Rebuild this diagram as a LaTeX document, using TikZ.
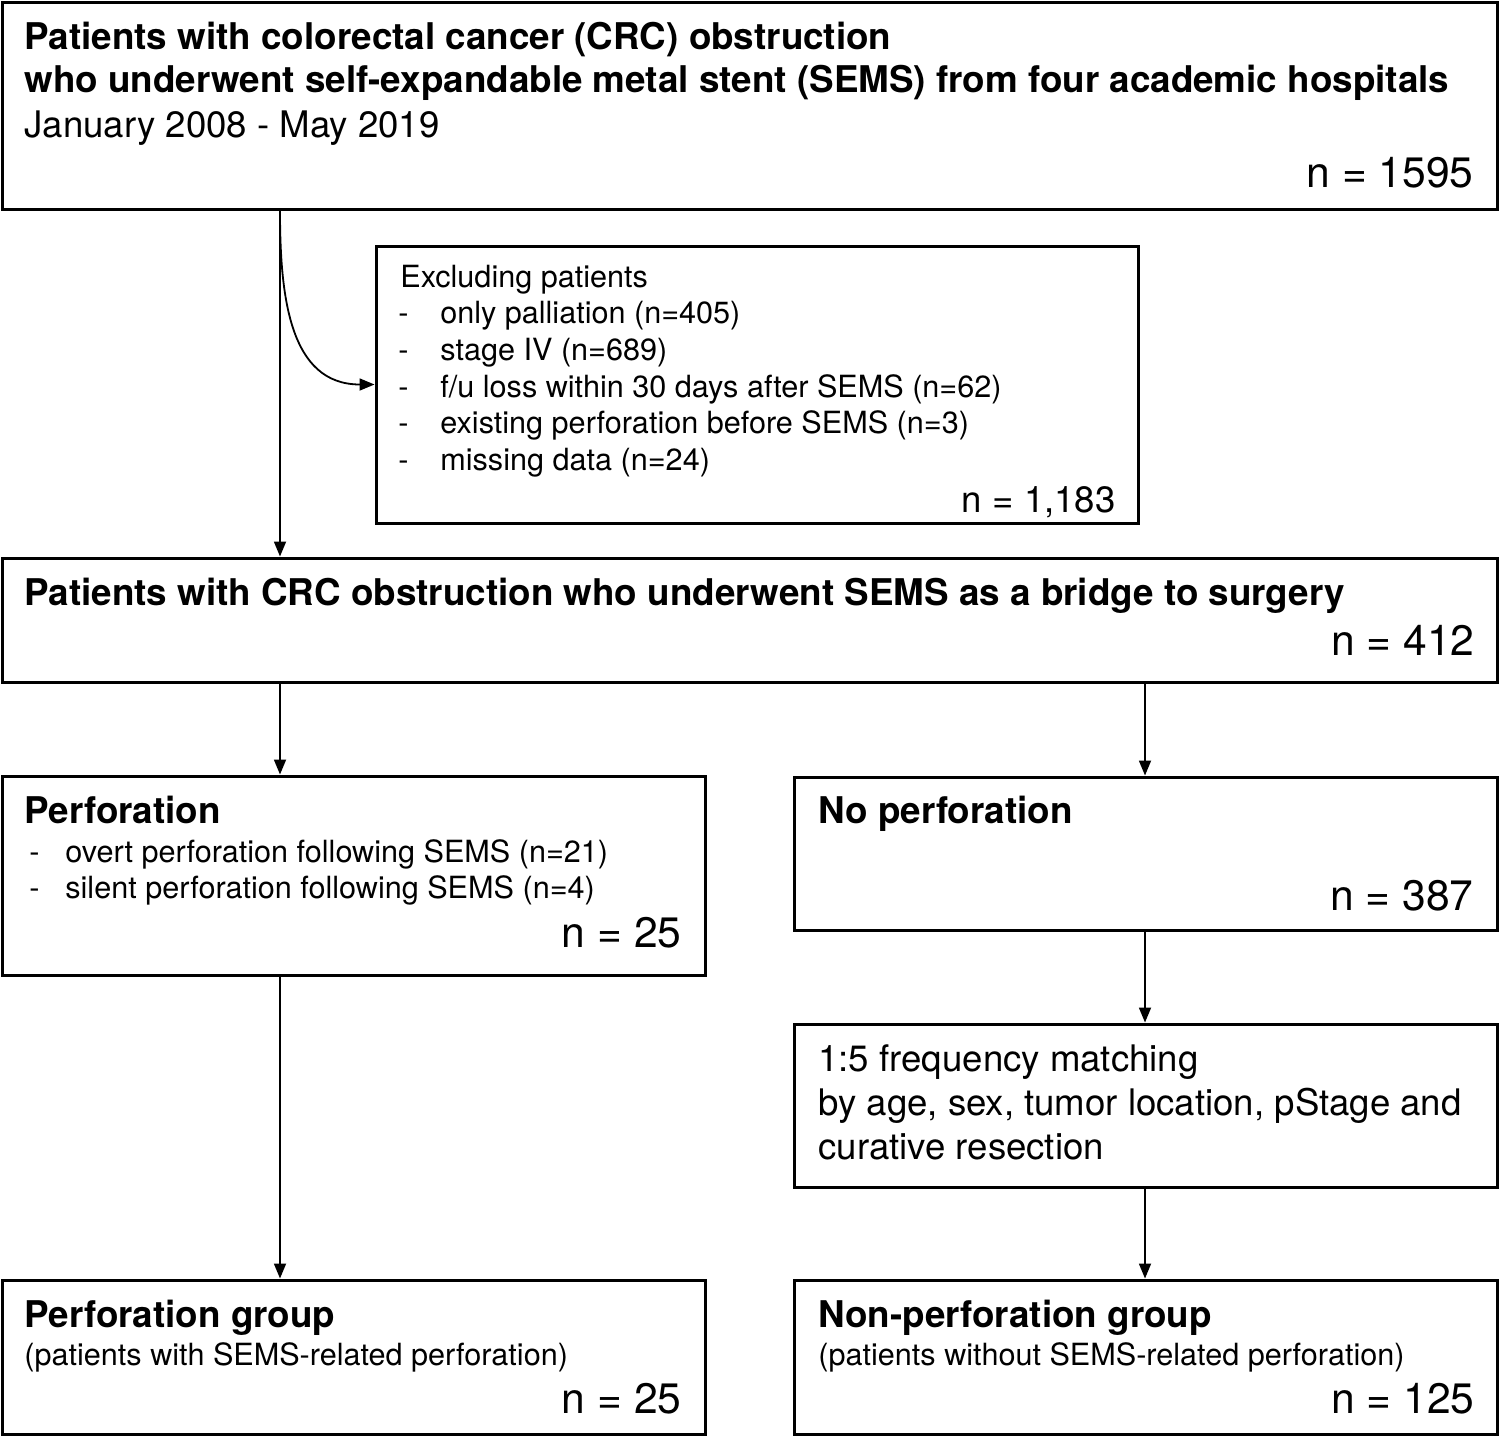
\documentclass[tikz,border=0pt]{standalone}
\usepackage{fontspec}
\setmainfont{TeX Gyre Heros}
\usetikzlibrary{arrows.meta, positioning}

\begin{document}
\begin{tikzpicture}[x=0.5pt, y=-0.5pt]

	\tikzstyle{caja}=[rectangle, draw, line width=1.5pt, inner sep=0pt]
	\tikzstyle{flecha}=[-{Triangle[length=7.5pt, width=6pt]}, line width=0.9pt]
	\tikzstyle{txt}=[anchor=base west, inner sep=0pt, font=\fontsize{18.3}{22}\selectfont]
	\tikzstyle{tit}=[anchor=base west, inner sep=0pt, font=\fontsize{18.4}{22}\selectfont\bfseries]
	\tikzstyle{item}=[anchor=base west, inner sep=0pt, font=\fontsize{15.3}{18}\selectfont]
	\tikzstyle{num}=[anchor=base east, inner sep=0pt, font=\fontsize{21.3}{26}\selectfont]

	\useasboundingbox (0, 0) rectangle (1500, 1436);

	\coordinate (c_0) at (749.5, 105.5); % INICIO
	\coordinate (c_ex) at (757, 384.5); % EXCLUIDOS
	\coordinate (c_1) at (749.5, 620); % PUENTE
	\coordinate (c_2_1) at (353.5, 875.5); % PERFORACION
	\coordinate (c_2_2) at (1145.5, 853.5); % SIN PERFORACION
	\coordinate (c_3_2) at (1145.5, 1105.5); % EMPAREJAMIENTO
	\coordinate (c_4_1) at (353.5, 1357); % GRUPO PERFORACION
	\coordinate (c_4_2) at (1145.5, 1357); % GRUPO SIN PERFORACION

	\coordinate (x_izq) at (280, 0);
	\coordinate (x_der) at (1145, 0);

	\node[caja, minimum width=747.5pt, minimum height=103.5pt] (inicio) at (c_0) {};
	\node[caja, minimum width=381pt, minimum height=138.5pt] (excl) at (c_ex) {};
	\node[caja, minimum width=747.5pt, minimum height=62pt] (puente) at (c_1) {};
	\node[caja, minimum width=351.5pt, minimum height=99.5pt] (perf) at (c_2_1) {};
	\node[caja, minimum width=351.5pt, minimum height=76.5pt] (noperf) at (c_2_2) {};
	\node[caja, minimum width=351.5pt, minimum height=81.5pt] (match) at (c_3_2) {};
	\node[caja, minimum width=351.5pt, minimum height=77pt] (g_perf) at (c_4_1) {};
	\node[caja, minimum width=351.5pt, minimum height=77pt] (g_noperf) at (c_4_2) {};

	\node[tit] (t_0_1) at (24, 49) {Patients with colorectal cancer (CRC) obstruction};
	\node[tit] (t_0_2) at (24, 92) {who underwent self-expandable metal stent (SEMS) from four academic hospitals};
	\node[txt] (t_0_3) at (24, 137) {January 2008 - May 2019};
	\node[num] (n_0) at (1474, 187) {n = 1595};

	\node[item] (t_ex) at (400, 287) {Excluding patients};
	\node[item] (d_ex_1) at (398, 323) {-};
	\node[item] (t_ex_1) at (440, 323) {only palliation (n=405)};
	\node[item] (d_ex_2) at (398, 360) {-};
	\node[item] (t_ex_2) at (440, 360) {stage IV (n=689)};
	\node[item] (d_ex_3) at (398, 397) {-};
	\node[item] (t_ex_3) at (440, 397) {f/u loss within 30 days after SEMS (n=62)};
	\node[item] (d_ex_4) at (398, 433) {-};
	\node[item] (t_ex_4) at (440, 433) {existing perforation before SEMS (n=3)};
	\node[item] (d_ex_5) at (398, 470) {-};
	\node[item] (t_ex_5) at (440, 470) {missing data (n=24)};
	\node[num, font=\fontsize{18.3}{22}\selectfont] (n_ex) at (1116, 512) {n = 1,183};

	\node[tit] (t_1) at (24, 605) {Patients with CRC obstruction who underwent SEMS as a bridge to surgery};
	\node[num] (n_1) at (1475, 655) {n = 412};

	\node[tit] (t_2_1) at (24, 823) {Perforation};
	\node[item] (d_2_1) at (29, 862) {-};
	\node[item] (t_2_1a) at (65, 862) {overt perforation following SEMS (n=21)};
	\node[item] (d_2_2) at (29, 898) {-};
	\node[item] (t_2_1b) at (65, 898) {silent perforation following SEMS (n=4)};
	\node[num] (n_2_1) at (682, 947) {n = 25};

	\node[tit] (t_2_2) at (818, 823) {No perforation};
	\node[num] (n_2_2) at (1474, 910) {n = 387};

	\node[txt] (t_3_a) at (818, 1071) {1:5 frequency matching};
	\node[txt] (t_3_b) at (818, 1115) {by age, sex, tumor location, pStage and};
	\node[txt] (t_3_c) at (818, 1159) {curative resection};

	\node[tit] (t_4_1) at (24, 1327) {Perforation group};
	\node[item] (s_4_1) at (24, 1365) {(patients with SEMS-related perforation)};
	\node[num] (n_4_1) at (682, 1413) {n = 25};

	\node[tit] (t_4_2) at (818, 1327) {Non-perforation group};
	\node[item] (s_4_2) at (818, 1365) {(patients without SEMS-related perforation)};
	\node[num] (n_4_2) at (1475, 1413) {n = 125};

	\draw[flecha] (inicio.south -| x_izq) -- (puente.north -| x_izq);
	\draw[flecha] (inicio.south -| x_izq) to[out=-90, in=180, looseness=1.1] (excl.west);
	\draw[flecha] (puente.south -| x_izq) -- (perf.north -| x_izq);
	\draw[flecha] (puente.south -| x_der) -- (noperf.north -| x_der);
	\draw[flecha] (perf.south -| x_izq) -- (g_perf.north -| x_izq);
	\draw[flecha] (noperf.south -| x_der) -- (match.north -| x_der);
	\draw[flecha] (match.south -| x_der) -- (g_noperf.north -| x_der);

\end{tikzpicture}
\end{document}
